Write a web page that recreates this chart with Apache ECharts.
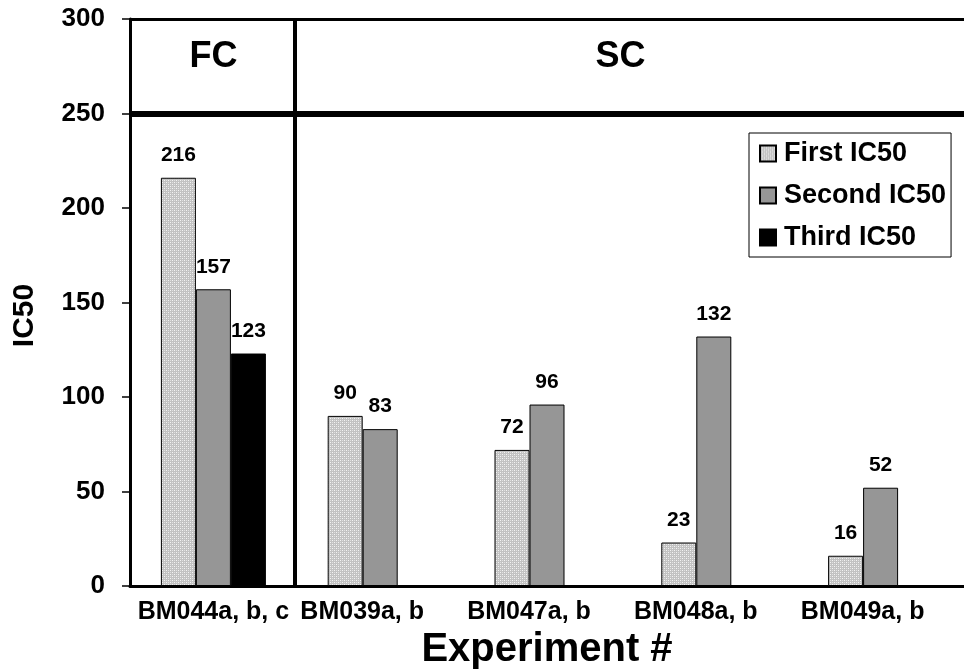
<!DOCTYPE html>
<html>
<head>
<meta charset="utf-8">
<script src="https://cdn.jsdelivr.net/npm/echarts@6/dist/echarts.min.js"></script>
<style>
  html, body { margin: 0; padding: 0; background: #fff; }
  #main { width: 964px; height: 670px; }
</style>
</head>
<body>
<div id="main"></div>
<script>
const experiments = ['BM044a, b, c', 'BM039a, b', 'BM047a, b', 'BM048a, b', 'BM049a, b'];
const firstIC50 = [216, 90, 72, 23, 16];
const secondIC50 = [157, 83, 96, 132, 52];
const thirdIC50 = [123, null, null, null, null];

// group headers across the top band
const headerNames = ['FC', 'SC'];
const headerX = [0.5, 2.94];
const headerY = 280;
const dividerX = 0.99;
const bandLine = 250;

const font = 'Liberation Sans, Arial, sans-serif';

// light grey dotted fill, like the Excel pattern
function makePattern() {
  const c = document.createElement('canvas');
  c.width = 4;
  c.height = 4;
  const ctx = c.getContext('2d');
  ctx.fillStyle = '#c2c2c2';
  ctx.fillRect(0, 0, 4, 4);
  ctx.fillStyle = '#f4f4f4';
  ctx.fillRect(0, 0, 1, 1);
  ctx.fillRect(2, 2, 1, 1);
  ctx.fillStyle = '#e0e0e0';
  ctx.fillRect(2, 0, 1, 1);
  ctx.fillRect(0, 2, 1, 1);
  return c;
}

const myChart = echarts.init(document.getElementById('main'));

const barLabel = {
  show: true,
  position: 'top',
  distance: 12,
  fontFamily: font,
  fontWeight: 'bold',
  fontSize: 21,
  color: '#000'
};

const option = {
  animation: false,
  grid: { left: 130, right: 0, top: 19, bottom: 84, containLabel: false, outerBoundsMode: 'none' },
  legend: {
    orient: 'vertical',
    left: 749,
    top: 133,
    padding: [7, 5, 6, 10],
    borderColor: '#000',
    borderWidth: 1,
    itemWidth: 16,
    itemHeight: 16,
    itemGap: 15,
    icon: 'rect',
    data: ['First IC50', 'Second IC50', 'Third IC50'],
    textStyle: { fontFamily: font, fontWeight: 'bold', fontSize: 27, color: '#000', padding: [0, 0, 0, 3] }
  },
  xAxis: [
    {
      type: 'category',
      data: experiments,
      axisLine: { lineStyle: { color: '#000', width: 3 } },
      axisTick: { show: false },
      axisLabel: {
        margin: 14,
        interval: 0,
        formatter: function (v, i) {
          return i === 0 ? '{a|' + v + '}' : '{b|' + v + '}';
        },
        rich: {
          a: { fontFamily: font, fontWeight: 'bold', fontSize: 25, color: '#000' },
          b: { fontFamily: font, fontWeight: 'bold', fontSize: 25, color: '#000', padding: [0, 36, 0, 0] }
        }
      },
      name: 'Experiment #',
      nameLocation: 'middle',
      nameGap: 44,
      nameTextStyle: { fontFamily: font, fontWeight: 'bold', fontSize: 40, color: '#000' }
    },
    { type: 'value', min: 0, max: 5, show: false }
  ],
  yAxis: {
    type: 'value',
    min: 0,
    max: 300,
    interval: 50,
    splitLine: { show: false },
    axisLine: { show: true, lineStyle: { color: '#000', width: 3 } },
    axisTick: { show: true, length: 8, lineStyle: { color: '#000', width: 1.5 } },
    axisLabel: { margin: 25, fontFamily: font, fontWeight: 'bold', fontSize: 26, color: '#000' },
    name: 'IC50',
    nameLocation: 'middle',
    nameGap: 90,
    nameTextStyle: { fontFamily: font, fontWeight: 'bold', fontSize: 30, color: '#000', padding: [0, 26, 0, 0] }
  },
  series: [
    {
      name: 'First IC50',
      type: 'bar',
      data: firstIC50,
      barWidth: 35,
      barGap: '0%',
      itemStyle: { color: { image: makePattern(), repeat: 'repeat' }, borderColor: '#000', borderWidth: 1 },
      label: barLabel
    },
    {
      name: 'Second IC50',
      type: 'bar',
      data: secondIC50,
      barWidth: 35,
      barGap: '0%',
      itemStyle: { color: '#969696', borderColor: '#000', borderWidth: 1 },
      label: barLabel
    },
    {
      name: 'Third IC50',
      type: 'bar',
      data: thirdIC50,
      barWidth: 35,
      barGap: '0%',
      itemStyle: { color: '#000', borderColor: '#000', borderWidth: 1 },
      label: barLabel
    },
    {
      name: 'headers',
      type: 'scatter',
      xAxisIndex: 1,
      symbolSize: 0,
      silent: true,
      itemStyle: { opacity: 1 },
      data: headerNames.map(function (n, i) {
        return { name: n, value: [headerX[i], headerY] };
      }),
      label: {
        show: true,
        position: 'inside',
        formatter: '{b}',
        fontFamily: font,
        fontWeight: 'bold',
        fontSize: 36,
        color: '#000'
      },
      markLine: {
        silent: true,
        symbol: 'none',
        label: { show: false },
        data: [
          { xAxis: dividerX, lineStyle: { color: '#000', width: 4, type: 'solid', opacity: 1 } },
          { yAxis: bandLine, lineStyle: { color: '#000', width: 6, type: 'solid', opacity: 1 } },
          { yAxis: 300, lineStyle: { color: '#000', width: 3, type: 'solid', opacity: 1 } }
        ]
      }
    }
  ]
};

myChart.setOption(option);
</script>
</body>
</html>
